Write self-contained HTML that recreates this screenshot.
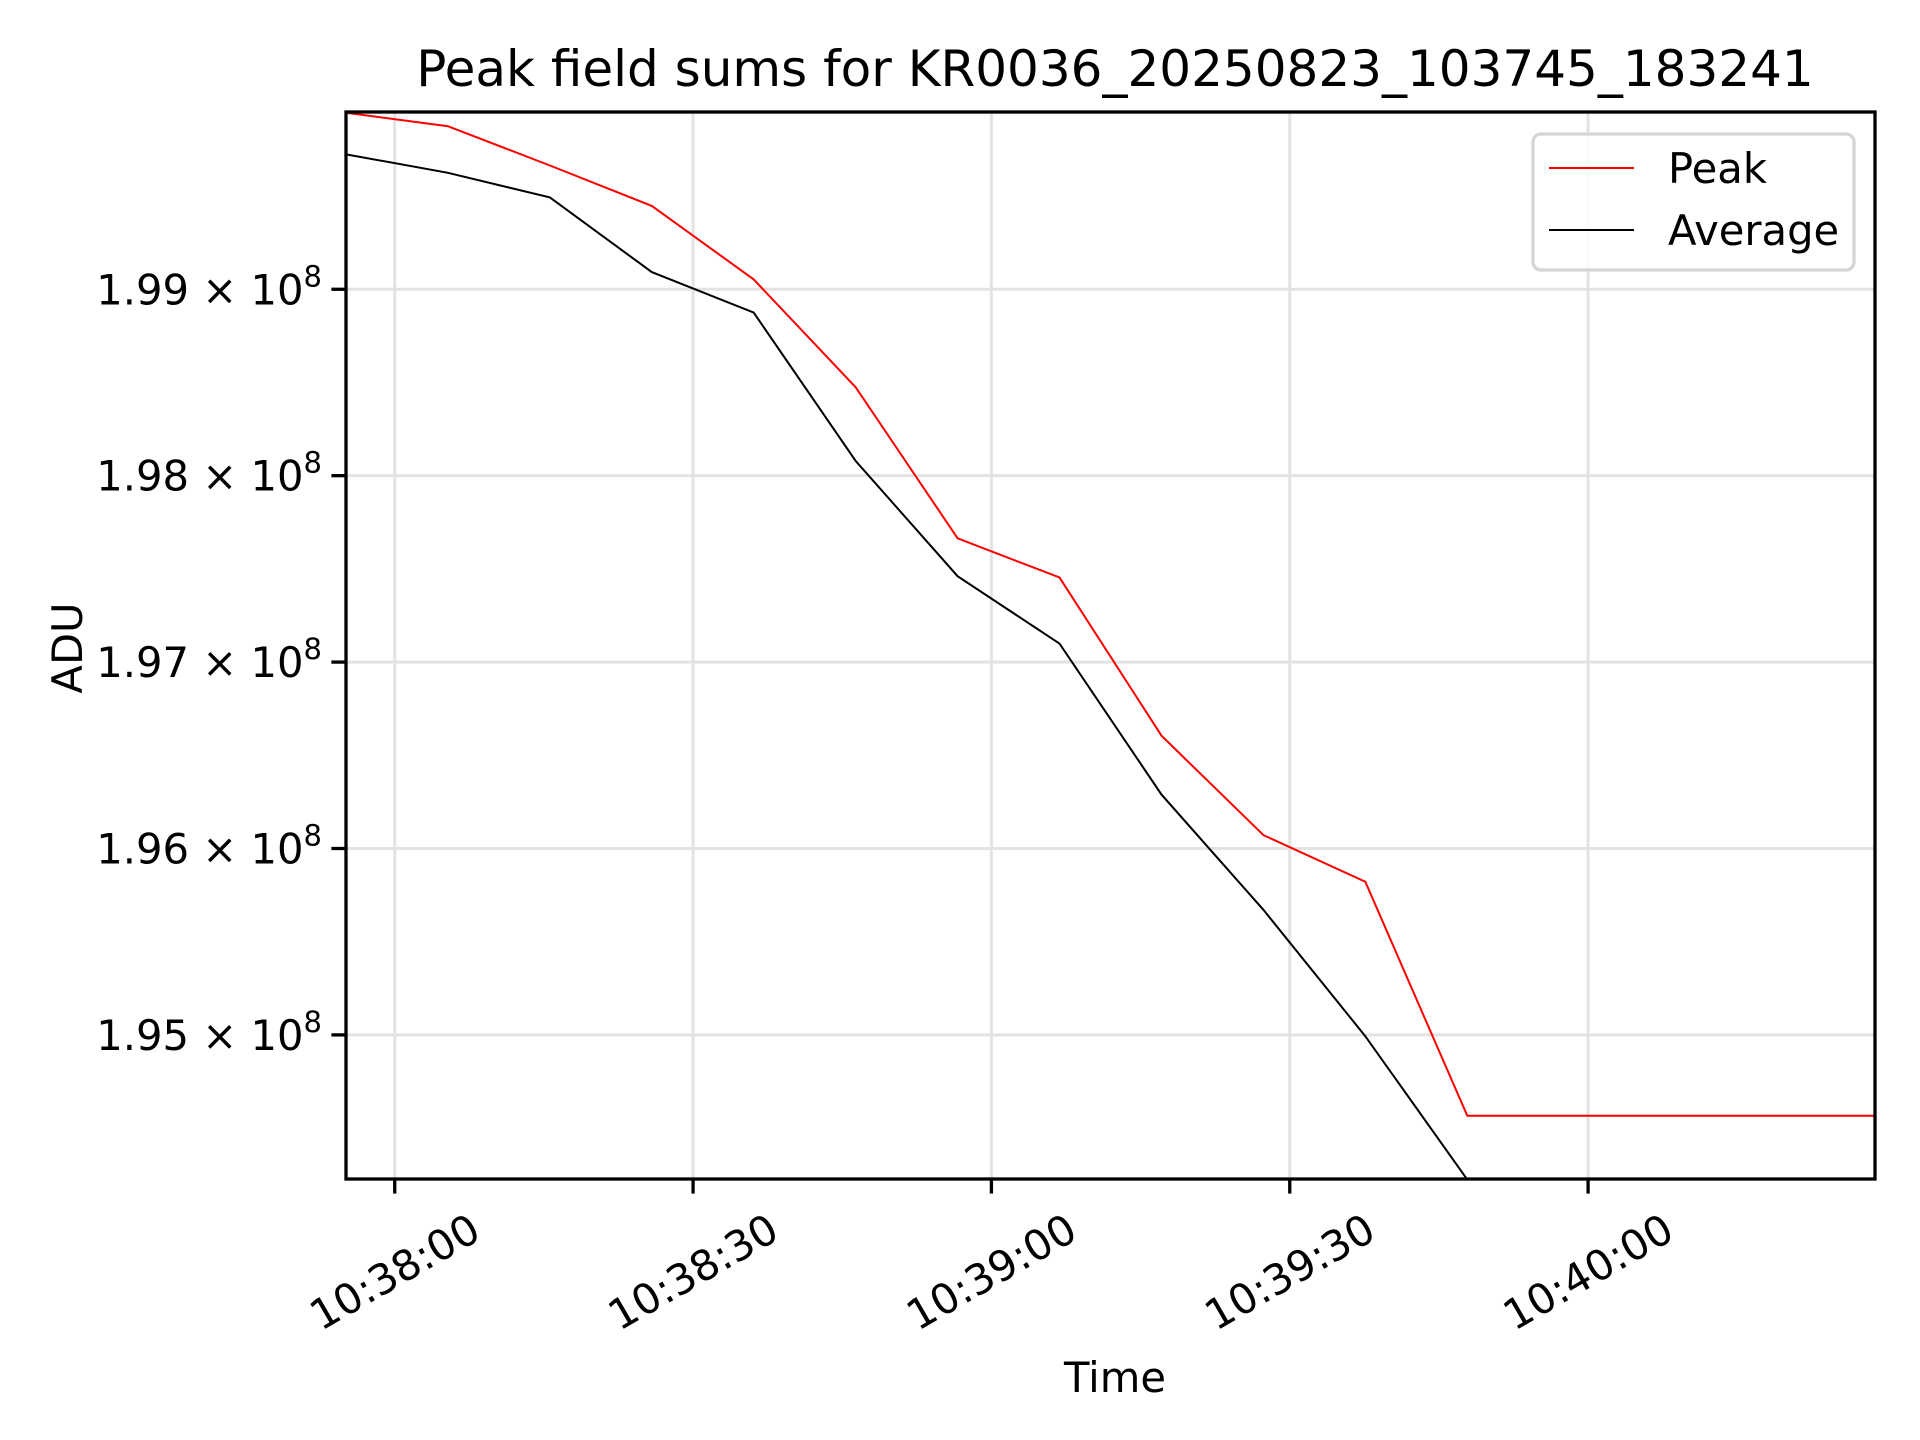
<!DOCTYPE html>
<html><head><meta charset="utf-8"><style>
html,body{margin:0;padding:0;background:#fff;}
svg{display:block;font-family:"DejaVu Sans","Liberation Sans",sans-serif;}
</style></head><body>
<svg id="chart" width="1920" height="1440" viewBox="0 0 1920 1440" xmlns="http://www.w3.org/2000/svg">
<rect width="1920" height="1440" fill="#fff"/>
<defs><clipPath id="plotclip"><rect x="346" y="112" width="1529" height="1067"/></clipPath></defs>
<g id="grid"></g>
<g id="series" clip-path="url(#plotclip)"></g>
<rect x="346" y="112" width="1529" height="1067" fill="none" stroke="#000" stroke-width="3.3"/>
<g id="xticks"></g>
<g id="yticks"></g>
<text x="1115" y="86" font-size="50" text-anchor="middle">Peak field sums for KR0036_20250823_103745_183241</text>
<text x="1115" y="1392" font-size="41.7" text-anchor="middle">Time</text>
<text transform="translate(82,648) rotate(-90)" font-size="41.7" text-anchor="middle">ADU</text>
<g>
<rect x="1533" y="134" width="321" height="136" rx="8" fill="#fff" fill-opacity="0.8" stroke="#d5d5d5" stroke-width="3.3"/>
<line x1="1549" y1="168" x2="1634" y2="168" stroke="#f00" stroke-width="2"/>
<text x="1668" y="183" font-size="41.7">Peak</text>
<line x1="1549" y1="230" x2="1634" y2="230" stroke="#000" stroke-width="2"/>
<text x="1668" y="245" font-size="41.7">Average</text>
</g>
</svg>
<script>
// seconds relative to 10:38:00
const times = [-4.9, 5.35, 15.6, 25.85, 36.1, 46.35, 56.6, 66.85, 77.1, 87.35, 97.6, 107.85, 118.1, 128.35, 138.6, 148.85];
// values in units of 1e8 ADU
const peakValues = [1.99947, 1.99875, 1.99664, 1.99447, 1.99053, 1.98474, 1.97664, 1.97454, 1.96605, 1.96072, 1.95822, 1.94566, 1.94566, 1.94566, 1.94566, 1.94566];
const averageValues = [1.99724, 1.99625, 1.99493, 1.99092, 1.98875, 1.98079, 1.97461, 1.97099, 1.96289, 1.95671, 1.94993, 1.94224, 1.9415, 1.9410, 1.9405, 1.9400];
const xTickSeconds = [0, 30, 60, 90, 120];
const xTickLabels = ["10:38:00", "10:38:30", "10:39:00", "10:39:30", "10:40:00"];
const yTickValues = [1.99, 1.98, 1.97, 1.96, 1.95];
const yTickLabels = ["1.99", "1.98", "1.97", "1.96", "1.95"];

const NS = "http://www.w3.org/2000/svg";
const L = 346, R = 1875, T = 112, B = 1179;
const xMin = -4.9, xMax = 148.85, yMin = 1.94227, yMax = 1.99951;
function xs(t){ return L + (t - xMin) / (xMax - xMin) * (R - L); }
function ys(v){ return B - (v - yMin) / (yMax - yMin) * (B - T); }
function mk(tag, attrs, parent){ const e = document.createElementNS(NS, tag); for (const k in attrs) e.setAttribute(k, attrs[k]); parent.appendChild(e); return e; }

const grid = document.getElementById('grid');
const xt = document.getElementById('xticks');
const yt = document.getElementById('yticks');
xTickSeconds.forEach((s, i) => {
  const x = xs(s);
  const g = mk('line', {x1:x, y1:T, x2:x, y2:B, stroke:'#e3e3e3', 'stroke-width':3}, grid);
  
  
  const tk = mk('line', {x1:x, y1:B, x2:x, y2:B+14.6, stroke:'#000', 'stroke-width':3.3}, xt);
  
  
  const tx = mk('text', {x:0, y:0, 'font-size':41.7, 'text-anchor':'middle', 'dominant-baseline':'central', transform:'translate(' + x + ',1272) rotate(-30)'}, xt);
  tx.textContent = xTickLabels[i];
  
  
});
yTickValues.forEach((v, i) => {
  const y = ys(v);
  const g = mk('line', {x1:L, y1:y, x2:R, y2:y, stroke:'#e3e3e3', 'stroke-width':3}, grid);
  
  
  const tk = mk('line', {x1:L-14.6, y1:y, x2:L, y2:y, stroke:'#000', 'stroke-width':3.3}, yt);
  
  
  const tx = mk('text', {x:322, y:y+15, 'font-size':41.7, 'text-anchor':'end'}, yt);
  
  
  const a = document.createElementNS(NS, 'tspan'); a.textContent = yTickLabels[i] + ' \u00d7 10'; tx.appendChild(a);
  const b = document.createElementNS(NS, 'tspan'); b.setAttribute('dy', -18); b.setAttribute('font-size', 29); b.textContent = '8'; tx.appendChild(b);
});
const series = document.getElementById('series');
function drawLine(vals, color, name){
  const pts = times.map((t, i) => xs(t).toFixed(1) + ',' + ys(vals[i]).toFixed(1)).join(' ');
  const p = mk('polyline', {points:pts, fill:'none', stroke:color, 'stroke-width':2, 'stroke-linejoin':'miter'}, series);
  
  
}
drawLine(averageValues, '#000', 'average-line');
drawLine(peakValues, '#f00', 'peak-line');
</script>
</body></html>
